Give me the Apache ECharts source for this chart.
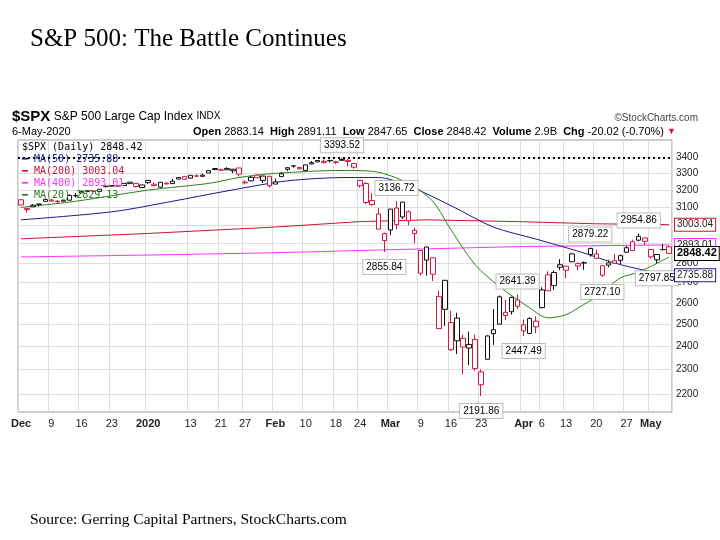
<!DOCTYPE html>
<html><head><meta charset="utf-8">
<script src="https://cdn.jsdelivr.net/npm/echarts@6/dist/echarts.min.js"></script>
<style>body{margin:0;background:#fff}#m{width:720px;height:540px}</style>
</head><body><div id="m"></div>
<script>
var dates=['12/2','12/3','12/4','12/5','12/6','12/9','12/10','12/11','12/12','12/13','12/16','12/17','12/18','12/19','12/20','12/23','12/24','12/26','12/27','12/30','12/31',
'1/2','1/3','1/6','1/7','1/8','1/9','1/10','1/13','1/14','1/15','1/16','1/17','1/21','1/22','1/23','1/24','1/27','1/28','1/29','1/30','1/31',
'2/3','2/4','2/5','2/6','2/7','2/10','2/11','2/12','2/13','2/14','2/18','2/19','2/20','2/21','2/24','2/25','2/26','2/27','2/28',
'3/2','3/3','3/4','3/5','3/6','3/9','3/10','3/11','3/12','3/13','3/16','3/17','3/18','3/19','3/20','3/23','3/24','3/25','3/26','3/27','3/30','3/31',
'4/1','4/2','4/3','4/6','4/7','4/8','4/9','4/13','4/14','4/15','4/16','4/17','4/20','4/21','4/22','4/23','4/24','4/27','4/28','4/29','4/30',
'5/1','5/4','5/5','5/6'];
var opens=[3143.85,3087.41,3103.50,3119.21,3134.62,3141.86,3135.36,3135.75,3141.23,3166.65,3183.63,3195.40,3195.21,3192.32,3223.33,3226.05,3225.45,3227.20,3247.23,3240.09,3215.18,
3244.67,3226.36,3217.55,3241.86,3238.59,3266.03,3281.81,3271.13,3285.35,3282.27,3302.97,3323.66,3321.03,3330.02,3315.77,3333.10,3247.16,3255.35,3289.46,3256.45,3282.33,
3235.66,3280.61,3324.91,3344.92,3335.54,3318.28,3365.87,3370.50,3365.90,3378.08,3369.04,3380.39,3380.45,3360.50,3257.61,3238.94,3139.90,3062.54,2916.90,
2974.28,3096.46,3045.75,3075.70,2954.20,2863.89,2813.48,2825.60,2630.86,2569.99,2508.59,2425.66,2436.50,2393.48,2431.94,2290.71,2344.44,2457.77,2501.29,2555.87,2558.98,2614.69,
2498.08,2458.54,2514.92,2578.28,2738.65,2685.00,2776.99,2782.46,2805.10,2795.64,2799.34,2842.43,2845.62,2784.81,2787.89,2810.42,2812.64,2854.65,2909.96,2918.46,2930.91,
2869.09,2815.01,2868.88,2883.14];
var highs=[3144.31,3094.97,3119.38,3119.45,3150.60,3148.87,3142.12,3143.98,3176.28,3182.68,3197.71,3198.22,3198.48,3205.48,3225.65,3227.78,3226.43,3240.08,3247.93,3240.92,3231.72,
3258.14,3246.15,3246.84,3244.91,3267.07,3275.58,3282.99,3288.13,3294.25,3298.66,3317.11,3329.88,3329.79,3337.77,3326.88,3333.18,3258.85,3285.78,3293.47,3285.91,3282.33,
3268.44,3306.92,3337.58,3347.96,3341.42,3352.26,3375.63,3381.47,3385.09,3380.69,3375.01,3393.52,3389.15,3360.76,3259.81,3246.99,3182.51,3097.07,2959.72,
3090.96,3136.72,3130.97,3083.04,2985.93,2863.89,2882.59,2825.60,2660.95,2711.33,2562.98,2553.93,2453.57,2466.97,2453.01,2300.73,2449.71,2571.42,2637.01,2615.91,2631.80,2641.39,
2522.75,2533.22,2538.18,2676.85,2756.89,2760.75,2818.57,2782.46,2851.85,2801.88,2806.51,2879.22,2868.98,2785.54,2815.10,2844.90,2842.71,2887.72,2921.15,2954.86,2930.91,
2869.09,2844.24,2898.23,2891.11];
var lows=[3110.78,3070.33,3102.53,3103.76,3134.62,3135.46,3126.09,3133.21,3138.47,3156.51,3183.63,3191.03,3191.14,3192.32,3216.03,3222.30,3220.51,3227.20,3234.37,3216.57,3212.03,
3235.53,3222.34,3214.64,3232.43,3236.67,3263.67,3260.86,3268.43,3277.19,3280.69,3302.82,3318.86,3316.61,3320.04,3301.87,3281.53,3234.50,3253.22,3271.89,3242.80,3214.68,
3235.66,3280.61,3313.75,3334.39,3322.12,3317.77,3355.61,3369.72,3360.52,3366.15,3355.61,3378.83,3341.02,3328.45,3214.65,3118.77,3108.99,2977.39,2855.84,
2945.19,2976.63,3034.38,2999.83,2901.54,2734.43,2734.00,2707.22,2478.86,2492.37,2380.94,2367.04,2280.52,2319.78,2295.56,2191.86,2344.44,2407.53,2500.72,2520.02,2545.28,2571.15,
2447.49,2455.79,2459.96,2574.57,2657.67,2663.30,2762.36,2721.17,2805.10,2761.54,2764.32,2830.88,2820.43,2727.10,2775.95,2794.26,2791.76,2852.89,2860.71,2912.16,2892.47,
2821.61,2797.85,2863.55,2847.65];
var closes=[3113.87,3093.20,3112.76,3117.43,3145.91,3135.96,3132.52,3141.63,3168.57,3168.80,3191.45,3192.52,3191.14,3205.37,3221.22,3224.01,3223.38,3239.91,3240.02,3221.29,3230.78,
3257.85,3234.85,3246.28,3237.18,3253.05,3274.70,3265.35,3288.13,3283.15,3289.29,3316.81,3329.62,3320.79,3321.75,3325.54,3295.47,3243.63,3276.24,3273.40,3283.66,3225.52,
3248.92,3297.59,3334.69,3345.78,3327.71,3352.09,3357.75,3379.45,3373.94,3380.16,3370.29,3386.15,3373.23,3337.75,3225.89,3128.21,3116.39,2978.76,2954.22,
3090.23,3003.37,3130.12,3023.94,2972.37,2746.56,2882.23,2741.38,2480.64,2711.02,2386.13,2529.19,2398.10,2409.39,2304.92,2237.40,2447.33,2475.56,2630.07,2541.47,2626.65,2584.59,
2470.50,2526.90,2488.65,2663.68,2659.41,2749.98,2789.82,2761.63,2846.06,2783.36,2799.55,2874.56,2823.16,2736.56,2799.31,2797.80,2836.74,2878.48,2863.39,2939.51,2912.43,
2830.71,2842.74,2868.44,2848.42];
var prevClose0=3140.98;

// moving averages at sample dates
var ma50=[['12/2',3030],['12/23',3075],['1/8',3135],['1/22',3195],['2/5',3255],['2/20',3275],['2/27',3275],['3/5',3225],['3/16',3110],['3/25',2990],['4/3',2925],['4/15',2860],['4/24',2790],['5/6',2735.88]];
var ma200=[['12/2',2926],['1/2',2955],['2/3',2990],['2/24',3020],['3/10',3030],['3/31',3020],['4/20',3008],['5/6',3003.04]];
var ma400=[['12/2',2830],['1/2',2840],['2/3',2852],['3/2',2868],['4/1',2885],['5/6',2893.01]];
var ma20=[['12/2',3100],['12/13',3135],['1/2',3200],['1/16',3240],['1/24',3275],['2/3',3300],['2/19',3318],['2/26',3313],['3/5',3240],['3/11',3135],['3/16',2975],['3/20',2790],['3/26',2680],['4/2',2577],['4/7',2530],['4/13',2545],['4/15',2577],['4/20',2630],['4/24',2723],['4/29',2752],['5/6',2829.13]];

var priceTicks=[2200,2300,2400,2500,2600,2700,2800,2900,3000,3100,3200,3300,3400];
var xTicks={'12/2':'Dec','12/9':'9','12/16':'16','12/23':'23','1/2':'2020','1/13':'13','1/21':'21','1/27':'27','2/3':'Feb','2/10':'10','2/18':'18','2/24':'24','3/2':'Mar','3/9':'9','3/16':'16','3/23':'23','4/1':'Apr','4/6':'6','4/13':'13','4/20':'20','4/27':'27','5/1':'May'};
var monthTicks=['12/2','1/2','2/3','3/2','4/1','5/1'];
var notes=[['2/19',3393.52,'top'],['3/3',3136.72,'top'],['2/28',2855.84,'bottom'],['3/23',2191.86,'bottom'],['3/31',2641.39,'top'],['4/1',2447.49,'bottom'],['4/17',2879.22,'top'],['4/21',2727.10,'bottom'],['4/29',2954.86,'top'],['5/4',2797.85,'bottom']];
var tags=[[3003.04,'#d0103a'],[2893.01,'#ff33ff'],[2848.42,'#000'],[2735.88,'#1a1a8c']];

var RED='#d6163d',BLK='#111';
var candles=dates.map(function(d,i){
  var pc=i?closes[i-1]:prevClose0;
  var c=closes[i]<pc?RED:BLK;
  return {value:[opens[i],closes[i],lows[i],highs[i]],itemStyle:{color:'#fff',color0:c,borderColor:c,borderColor0:c}};
});

var lines=priceTicks.map(function(v){
  return {yAxis:v,lineStyle:{color:'#ddd',type:'solid',width:1},label:{formatter:String(v),color:'#222',fontSize:10}};
});
lines.push({yAxis:3393.52,lineStyle:{color:'#000',type:[2,3],width:2},label:{show:false}});

var tagLines=tags.map(function(t){
  var bold=t[1]==='#000';
  return {yAxis:t[0],label:{formatter:t[0].toFixed(2),color:bold?'#000':'#222',fontWeight:bold?'bold':'normal',fontSize:bold?11:10,backgroundColor:'#fff',borderColor:t[1],borderWidth:1,padding:[1,2]}};
});

var myChart=echarts.init(document.getElementById('m'));
var legendText=['{k|$SPX (Daily) 2848.42}','{b|━ MA(50) 2735.88}','{r|━ MA(200) 3003.04}','{p|━ MA(400) 2893.01}','{g|━ MA(20) 2829.13}'].join('\n');
function rs(c){return {fill:c,color:c,fontSize:10,lineHeight:12,fontFamily:'DejaVu Sans Mono'};}
var option={
  animation:false,
  textStyle:{fontFamily:'Liberation Sans, Arial'},
  grid:{left:18,right:48,top:140,bottom:128,show:true,borderColor:'#999',borderWidth:1},
  xAxis:{type:'category',data:dates,boundaryGap:true,
    axisLine:{show:false},axisTick:{show:false},
    axisLabel:{interval:function(i,v){return xTicks[v]!==undefined;},
      formatter:function(v){return monthTicks.indexOf(v)>=0?'{m|'+xTicks[v]+'}':xTicks[v];},
      color:'#222',fontSize:11,margin:6,rich:{m:{fontWeight:'bold',fontSize:11,color:'#222'}}},
    splitLine:{show:true,interval:function(i,v){return xTicks[v]!==undefined;},lineStyle:{color:'#ddd'}}},
  yAxis:{type:'log',logBase:10,min:2128,max:3509,position:'right',axisLabel:{show:false},axisLine:{show:false},axisTick:{show:false},splitLine:{show:false}},
  graphic:[
    {type:'text',left:30,top:27,style:{text:'S&P 500: The Battle Continues',font:'25px "Liberation Serif"',fill:'#000'}},
    {type:'text',left:12,top:109,style:{text:'{a|$SPX} {c|S&P 500 Large Cap Index} {d|INDX}',rich:{a:{font:'bold 15px "Liberation Sans"',fill:'#000'},c:{font:'12px "Liberation Sans"',fill:'#000'},d:{font:'10px "Liberation Sans"',fill:'#000'}}}},
    {type:'text',right:22,top:113,style:{text:'©StockCharts.com',font:'10px "Liberation Sans"',fill:'#444'}},
    {type:'text',left:12,top:126,style:{text:'6-May-2020',font:'11px "Liberation Sans"',fill:'#000'}},
    {type:'text',right:44,top:126,style:{text:'{b|Open} 2883.14  {b|High} 2891.11  {b|Low} 2847.65  {b|Close} 2848.42  {b|Volume} 2.9B  {b|Chg} -20.02 (-0.70%) {r|▼}',font:'11px "Liberation Sans"',fill:'#000',rich:{b:{fontWeight:'bold',fontSize:11},r:{fill:'#d6163d',fontSize:9}}}},
    {type:'text',left:22,top:141,z:10,style:{text:legendText,font:'10px "DejaVu Sans Mono"',lineHeight:12,fill:'#000',rich:{k:rs('#000'),b:rs('#1a1a8c'),r:rs('#d0103a'),p:rs('#ff33ff'),g:rs('#2e7d1e')}}},
    {type:'text',left:30,top:512,style:{text:'Source: Gerring Capital Partners, StockCharts.com',font:'15.5px "Liberation Serif"',fill:'#000'}}
  ],
  series:[
    {name:'MA200',type:'line',data:ma200,symbol:'none',lineStyle:{color:'#d0103a',width:1},z:2},
    {name:'MA400',type:'line',data:ma400,symbol:'none',lineStyle:{color:'#ff33ff',width:1},z:2},
    {name:'MA50',type:'line',data:ma50,symbol:'none',smooth:0.3,lineStyle:{color:'#1a1a8c',width:1},z:2},
    {name:'MA20',type:'line',data:ma20,symbol:'none',smooth:0.3,lineStyle:{color:'#2e7d1e',width:1},z:2,
      markLine:{symbol:'none',silent:true,lineStyle:{width:0,color:'rgba(0,0,0,0)'},label:{position:'end',distance:3},data:tagLines,z:20}},
    {name:'$SPX',type:'candlestick',data:candles,barWidth:5,z:3,
      markLine:{symbol:'none',silent:true,label:{position:'end',distance:4},data:lines,z:1},
      markPoint:{symbolSize:0,data:notes.map(function(n){
        return {coord:[n[0],n[1]],label:{show:true,position:n[2],distance:n[2]==='top'?6:8,formatter:n[1].toFixed(2),color:'#000',fontSize:10,backgroundColor:'#fff',borderColor:'#bbb',borderWidth:1,padding:[2,3]}};
      })}}
  ]
};
myChart.setOption(option);
</script></body></html>
